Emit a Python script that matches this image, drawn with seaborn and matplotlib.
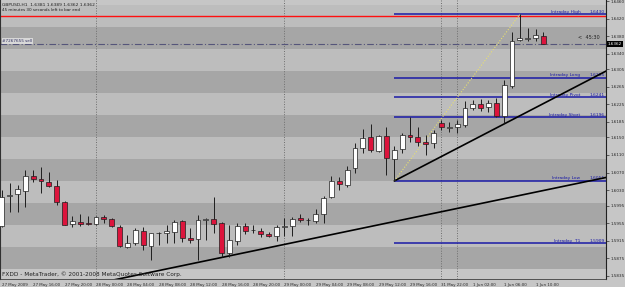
import numpy as np
import pandas as pd
import matplotlib
matplotlib.use("Agg")
import matplotlib.pyplot as plt
import seaborn as sns
from matplotlib.transforms import blended_transform_factory

# ---------------- data ----------------
opens = [1.5949, 1.6016, 1.6021, 1.6029, 1.6062, 1.6056, 1.6049, 1.6040, 1.6004, 1.5952,
         1.5958, 1.5955, 1.5952, 1.5970, 1.5965, 1.5947, 1.5900, 1.5909, 1.5937, 1.5904,
         1.5932, 1.5932, 1.5936, 1.5960, 1.5921, 1.5918, 1.5962, 1.5964, 1.5955, 1.5887,
         1.5915, 1.5949, 1.5939, 1.5937, 1.5930, 1.5926, 1.5947, 1.5949, 1.5966, 1.5962,
         1.5960, 1.5975, 1.6014, 1.6051, 1.6042, 1.6080, 1.6127, 1.6150, 1.6120, 1.6153,
         1.6102, 1.6123, 1.6155, 1.6152, 1.6140, 1.6137, 1.6182, 1.6172, 1.6173, 1.6178,
         1.6216, 1.6226, 1.6218, 1.6228, 1.6199, 1.6267, 1.6371, 1.6374, 1.6375, 1.6381]
highs = [1.6030, 1.6046, 1.6042, 1.6076, 1.6077, 1.6083, 1.6071, 1.6053, 1.6006, 1.5971,
         1.5976, 1.5971, 1.5971, 1.5974, 1.5966, 1.5951, 1.5928, 1.5943, 1.5947, 1.5933,
         1.5936, 1.5951, 1.5962, 1.5962, 1.5943, 1.5974, 1.5966, 1.6015, 1.5958, 1.5951,
         1.5955, 1.5955, 1.5951, 1.5943, 1.5934, 1.5951, 1.5966, 1.5968, 1.5975, 1.5966,
         1.5987, 1.6017, 1.6063, 1.6061, 1.6085, 1.6137, 1.6169, 1.6180, 1.6155, 1.6174,
         1.6130, 1.6159, 1.6197, 1.6173, 1.6155, 1.6167, 1.6190, 1.6186, 1.6190, 1.6233,
         1.6235, 1.6238, 1.6235, 1.6239, 1.6280, 1.6390, 1.6430, 1.6398, 1.6396, 1.6389]
lows = [1.5946, 1.5980, 1.5981, 1.5992, 1.6049, 1.6023, 1.6038, 1.5996, 1.5950, 1.5947,
        1.5949, 1.5951, 1.5951, 1.5955, 1.5947, 1.5900, 1.5898, 1.5905, 1.5894, 1.5871,
        1.5905, 1.5909, 1.5909, 1.5913, 1.5909, 1.5871, 1.5917, 1.5933, 1.5879, 1.5879,
        1.5905, 1.5930, 1.5932, 1.5924, 1.5924, 1.5915, 1.5926, 1.5926, 1.5958, 1.5951,
        1.5956, 1.5955, 1.6012, 1.6030, 1.6038, 1.6068, 1.6114, 1.6117, 1.6117, 1.6065,
        1.6051, 1.6114, 1.6140, 1.6130, 1.6110, 1.6125, 1.6167, 1.6163, 1.6159, 1.6174,
        1.6212, 1.6211, 1.6208, 1.6197, 1.6182, 1.6262, 1.6368, 1.6368, 1.6370, 1.6362]
closes = [1.6015, 1.6018, 1.6032, 1.6062, 1.6055, 1.6050, 1.6040, 1.6004, 1.5951, 1.5960,
          1.5953, 1.5952, 1.5968, 1.5964, 1.5949, 1.5902, 1.5909, 1.5940, 1.5905, 1.5932,
          1.5933, 1.5937, 1.5958, 1.5921, 1.5917, 1.5962, 1.5964, 1.5953, 1.5887, 1.5917,
          1.5949, 1.5937, 1.5940, 1.5930, 1.5926, 1.5947, 1.5949, 1.5964, 1.5962, 1.5963,
          1.5975, 1.6012, 1.6052, 1.6044, 1.6077, 1.6125, 1.6149, 1.6121, 1.6154, 1.6104,
          1.6121, 1.6155, 1.6150, 1.6140, 1.6136, 1.6159, 1.6173, 1.6174, 1.6180, 1.6216,
          1.6226, 1.6216, 1.6228, 1.6199, 1.6269, 1.6370, 1.6375, 1.6376, 1.6383, 1.6362]

time_labels = ["27 May 2009", "27 May 16:00", "27 May 20:00", "28 May 00:00", "28 May 04:00",
               "28 May 08:00", "28 May 12:00", "28 May 16:00", "28 May 20:00", "29 May 00:00",
               "29 May 04:00", "29 May 08:00", "29 May 12:00", "29 May 16:00", "31 May 22:00",
               "1 Jun 02:00", "1 Jun 06:00", "1 Jun 10:00"]
label_every = 4
day_separator_bars = [12, 36, 56, 58]

price_tick_labels = ["1.6460", "1.6420", "1.6380", "1.6340", "1.6305", "1.6265", "1.6225",
                     "1.6185", "1.6150", "1.6110", "1.6070", "1.6030", "1.5995", "1.5955",
                     "1.5915", "1.5875", "1.5835"]

band_edges = [1.585, 1.590, 1.595, 1.600, 1.605, 1.610, 1.615, 1.620, 1.625, 1.630,
              1.635, 1.640, 1.645]

level_names = ["Intraday High", "Intraday Long", "Intraday Pivot", "Intraday Short",
               "Intraday Low", "Intraday  T1"]
level_values = [1.6430, 1.6285, 1.6241, 1.6196, 1.6051, 1.5909]
level_start_bar = 50

red_line_price = 1.6426
order_price = 1.6363
order_label = "#7267655 sell"
current_price = 1.6362

trend1_bars = [14, 77]
trend1_prices = [1.5825, 1.6059]
trend2_bars = [50, 77]
trend2_prices = [1.6051, 1.6301]
fibo_bars = [50, 66]
fibo_prices = [1.6051, 1.6430]

header1 = "GBPUSD,H1  1.6381 1.6389 1.6362 1.6362"
header2 = "45 minutes 30 seconds left to bar end"
countdown = "<  45:30"
footer = "FXDD - MetaTrader, \u00a9 2001-2008 MetaQuotes Software Corp."

# ---------------- style ----------------
sns.set_style("white")
plt.rcParams["font.family"] = ["DejaVu Sans"]

BG = "#c6c6c6"
LIGHT = "#bdbdbd"
DARK = "#a6a6a6"
BLUE = "#1a1aa6"

W, H = 625, 287
fig = plt.figure(figsize=(W / 100, H / 100), dpi=100, facecolor=BG)
ax = fig.add_axes([0, 8 / H, 606 / W, 279 / H])
ax.set_facecolor(BG)

n = len(opens)
bars = np.arange(n)
df = pd.DataFrame({"bar": bars, "open": opens, "high": highs, "low": lows, "close": closes})

ax.set_xlim(-0.23, 76.97)
ax.set_ylim(1.58281, 1.64623)

# bands
for k in range(len(band_edges) - 1):
    ax.axhspan(band_edges[k], band_edges[k + 1], color=DARK if k % 2 == 0 else LIGHT,
               lw=0, zorder=0)

# day separators
for b in day_separator_bars:
    ax.axvline(b, color="#6e6e6e", lw=0.7, ls=(0, (1, 1.6)), zorder=1)

# levels
x_end = ax.get_xlim()[1]
tr = blended_transform_factory(ax.transAxes, ax.transData)
for name, v in zip(level_names, level_values):
    ax.hlines(v, level_start_bar, x_end, color=BLUE, lw=1.1, zorder=2)
    ax.text(0.958, v + 0.00012, name, transform=tr, ha="right", va="bottom",
            fontsize=3.2, color=BLUE, zorder=2)
    ax.text(0.998, v + 0.00012, f"{v:.4f}", transform=tr, ha="right", va="bottom",
            fontsize=3.2, color=BLUE, zorder=2)

ax.axhline(red_line_price, color="#ff1010", lw=1.0, zorder=2)
ax.axhline(order_price, color="#55557a", lw=0.8, ls=(0, (6, 2, 1, 2)), zorder=2)
ax.text(0.004, order_price + 0.00018, order_label, transform=tr, ha="left", va="bottom",
        fontsize=3.0, color="#303060", zorder=6,
        bbox=dict(boxstyle="square,pad=0.15", fc="#d8d8d8", ec="none"))

# trend lines
tl = pd.DataFrame({"bar": trend1_bars + trend2_bars, "price": trend1_prices + trend2_prices,
                   "line": ["t1", "t1", "t2", "t2"]})
sns.lineplot(data=tl, x="bar", y="price", units="line", estimator=None, color="black",
             lw=1.2, ax=ax, zorder=3, legend=False)
fb = pd.DataFrame({"bar": fibo_bars, "price": fibo_prices})
sns.lineplot(data=fb, x="bar", y="price", color="#e8e070", lw=0.8, ls=(0, (1, 1.5)),
             ax=ax, zorder=3, legend=False)

# candles
up = df["close"] >= df["open"]
ax.vlines(df["bar"], df["low"], df["high"], color="#1e1e1e", lw=0.7, zorder=4)
body = (df["close"] - df["open"]).abs().clip(lower=0.00004)
bottom = df[["open", "close"]].min(axis=1)
ax.bar(df["bar"][up], body[up], bottom=bottom[up], width=0.62, color="white",
       edgecolor="#1e1e1e", lw=0.5, zorder=5)
ax.bar(df["bar"][~up], body[~up], bottom=bottom[~up], width=0.62, color="#dc143c",
       edgecolor="#1e1e1e", lw=0.5, zorder=5)

# axes
ax.set_xlabel("")
ax.set_ylabel("")
ax.set_xticks(np.arange(0, n, label_every)[:len(time_labels)])
ax.set_xticklabels(time_labels, fontsize=2.85, ha="left")
ax.tick_params(axis="x", length=2, width=0.5, pad=1.2, color="#303030")
ax.yaxis.tick_right()
ax.set_yticks([float(s) for s in price_tick_labels])
ax.set_yticklabels(price_tick_labels, fontsize=3.0)
ax.tick_params(axis="y", length=2, width=0.5, pad=1.2, color="#303030")
ax.spines["top"].set_visible(False)
ax.spines["right"].set_color("#202020")
ax.spines["right"].set_linewidth(0.8)
ax.spines["left"].set_color("#303030")
ax.spines["left"].set_linewidth(0.8)
ax.spines["bottom"].set_color("#404040")
ax.spines["bottom"].set_linewidth(0.6)

# current price tag
ax.text(1.003, current_price, f"{current_price:.4f}", transform=tr, ha="left",
        va="center", fontsize=3.0, color="white", zorder=7, clip_on=False,
        bbox=dict(boxstyle="square,pad=0.2", fc="black", ec="none"))

# texts
ax.text(0.953, 1.6376, countdown, transform=tr, ha="left", va="center", fontsize=3.6,
        color="#202020", zorder=6)
fig.text(2 / W, 1 - 4.5 / H, header1, ha="left", va="center", fontsize=3.2, color="#202020")
fig.text(2 / W, 1 - 10 / H, header2, ha="left", va="center", fontsize=3.0, color="#202020")
fig.text(2.5 / W, 1 - 274.5 / H, footer, ha="left", va="center", fontsize=4.15, color="#202020")

fig.savefig("out.png", dpi=100, facecolor=BG)
